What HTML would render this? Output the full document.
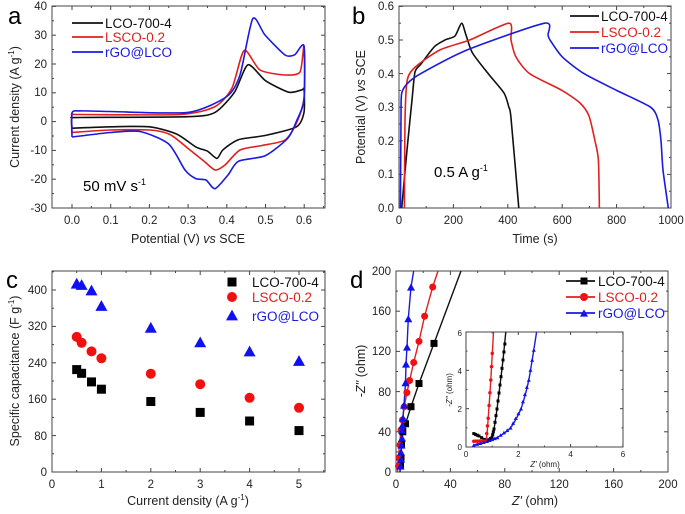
<!DOCTYPE html>
<html><head><meta charset="utf-8"><style>
html,body{margin:0;padding:0;background:#fff;}
svg{display:block;font-family:"Liberation Sans",Arial,sans-serif;}
.t{font-size:11.5px;fill:#222}
.at{font-size:12.5px;fill:#222}
.lg{font-size:13.5px}
.pl{font-size:24px;fill:#000}
</style></head><body>
<svg id="s" width="685" height="514" viewBox="0 0 685 514" xmlns="http://www.w3.org/2000/svg">
<g fill="none" stroke="#444" stroke-width="1">
<rect x="52" y="6" width="273" height="202"/>
<rect x="399" y="6" width="272" height="202"/>
<rect x="52" y="271" width="273" height="201"/>
<rect x="396" y="271" width="272" height="201"/>
<rect x="466" y="332" width="157" height="115"/>
</g>
<g id="ticks" stroke="#444" stroke-width="1"></g>
<g fill="none" stroke-width="1.6" stroke-linejoin="round">
<polyline class="sm" stroke="#111" points="72,128.2 72,118.1 79.7,117.5 188,116.7 215,112.4 234.5,92.2 248,64.8 265.5,80.7 288.7,92.2 302,89.8 304,89.3 304,112.4 296.5,126.8 265.5,135.4 238.4,139.7 223,149.8 217,158.4 207.5,151.2 195.8,146.9 176.5,134 149.4,126.8 110.7,126.8 72,128.2"/>
<polyline class="sm" stroke="#e02020" points="72,132.5 72,115.2 80,114.5 180,114.5 215,106.6 232,88 244.2,50.4 260,70 285,75 300,72 304,46.1 304,98 296.5,123 285,140 262,145.5 240,150 225,165 215.2,170 205,162 190,150 170,134.5 150,130 110,130 72,132.5"/>
<polyline class="sm" stroke="#1a1ae0" points="72,137 72,113 80,110.9 110,111.5 188,112.4 226.8,96.5 240,75 252.7,18.8 265,35 285,55 294.7,54.8 304,46.1 304,100 296.5,121 288,138 265.5,155.6 238.4,161.3 228,175 215,188.7 206,180 195.8,178.6 185,170 168.7,144 140,131.5 110.7,132.5 72,137"/>
</g>
<g fill="none" stroke-width="1.6" stroke-linejoin="round">
<polyline class="sm" stroke="#111" points="401.7,208 407,150 412,100 415,72 421,64 434.4,46.7 445,40 455,36 461.6,23.2 466,35 472.5,53 489,74.6 504,93 508.8,107 511,118 518.8,208"/>
<polyline class="sm" stroke="#e02020" points="404.4,208 405,120 407.2,80.3 415.3,67 439.8,50 469.7,40 509,23.2 511,40 516,57 529.6,73.6 562,90.4 580,103 589,116 595,141 598.4,160 599.4,208"/>
<polyline class="sm" stroke="#1a1ae0" points="400.4,208 401,120 401.6,93.8 407.2,83.7 420.8,73.6 467,50 544.5,23.2 548,35 550,40 562.2,56.8 584,73.6 616.6,90.4 650.6,107.2 658,120 661,140.8 663,170 668.3,208"/>
</g>
<g fill="none" stroke-width="1.4">
<polyline stroke="#111" points="400,472 401,455 402.8,431.8 405.5,423.8 411,406.7 419,383.5 434,343.4 461,271"/>
<polyline stroke="#e02020" points="397.5,472 399,450 401,430 404.2,406.7 406.9,392.6 409.6,380.5 413.7,362.5 419,341.4 424.6,316.2 432.7,287 438,271"/>
<polyline stroke="#1a1ae0" points="400,472 401,450 402,430 403,418 404,405 405.5,382.6 406,364 407,347 408.3,318.6 411,287 413.7,271"/>
<polyline class="sm" stroke="#111" points="473.8,433.6 479,436 487,441 492,437.4 494,429 497,409 500,385 503,360 505.8,332"/>
<polyline class="sm" stroke="#e02020" points="473.8,441.2 480,441 486,441.2 488.2,418.2 490.8,380 493.5,332"/>
<polyline class="sm" stroke="#1a1ae0" points="473.8,445.1 487,441.2 497.4,437.4 510.5,427.8 521,408.7 528.8,379.9 536.6,332"/>
</g>
<g id="mk"></g>
<g stroke-width="1.8">
<line x1="72" y1="23" x2="103" y2="23" stroke="#111"/>
<line x1="72" y1="37" x2="103" y2="37" stroke="#e02020"/>
<line x1="72" y1="52" x2="103" y2="52" stroke="#1a1ae0"/>
<line x1="570" y1="16" x2="599" y2="16" stroke="#111"/>
<line x1="570" y1="32" x2="599" y2="32" stroke="#e02020"/>
<line x1="570" y1="48" x2="599" y2="48" stroke="#1a1ae0"/>
<line x1="566" y1="281" x2="595" y2="281" stroke="#111"/>
<line x1="566" y1="297" x2="595" y2="297" stroke="#e02020"/>
<line x1="566" y1="313" x2="595" y2="313" stroke="#1a1ae0"/>
</g>
<g class="lg">
<text x="105" y="28" fill="#111">LCO-700-4</text>
<text x="105" y="42" fill="#e02020">LSCO-0.2</text>
<text x="105" y="57" fill="#1a1ae0">rGO@LCO</text>
<text x="601" y="21" fill="#111">LCO-700-4</text>
<text x="601" y="37" fill="#e02020">LSCO-0.2</text>
<text x="601" y="53" fill="#1a1ae0">rGO@LCO</text>
<text x="252" y="287" fill="#111">LCO-700-4</text>
<text x="252" y="302" fill="#e02020">LSCO-0.2</text>
<text x="252" y="321" fill="#1a1ae0">rGO@LCO</text>
<text x="598" y="286" fill="#111">LCO-700-4</text>
<text x="598" y="302" fill="#e02020">LSCO-0.2</text>
<text x="598" y="318" fill="#1a1ae0">rGO@LCO</text>
</g>
<text class="pl" x="8" y="24">a</text>
<text class="pl" x="352" y="24">b</text>
<text class="pl" x="6" y="288">c</text>
<text class="pl" x="350" y="288">d</text>
<text x="83" y="191" style="font-size:15px">50 mV s<tspan dy="-6" style="font-size:9px">-1</tspan></text>
<text x="434" y="177" style="font-size:15px">0.5 A g<tspan dy="-6" style="font-size:9px">-1</tspan></text>
<g class="t" text-anchor="end">
<text x="47" y="10">40</text><text x="47" y="39">30</text><text x="47" y="68">20</text><text x="47" y="96">10</text><text x="47" y="125">0</text><text x="47" y="154">-10</text><text x="47" y="183">-20</text><text x="47" y="212">-30</text>
<text x="394" y="10">0.6</text><text x="394" y="44">0.5</text><text x="394" y="78">0.4</text><text x="394" y="111">0.3</text><text x="394" y="145">0.2</text><text x="394" y="178">0.1</text><text x="394" y="212">0.0</text>
<text x="47" y="294">400</text><text x="47" y="330">320</text><text x="47" y="367">240</text><text x="47" y="403">160</text><text x="47" y="440">80</text><text x="47" y="476">0</text>
<text x="391" y="275">200</text><text x="391" y="315">160</text><text x="391" y="355">120</text><text x="391" y="396">80</text><text x="391" y="436">40</text><text x="391" y="476">0</text>
</g>
<g class="t" text-anchor="middle">
<text x="72" y="224">0.0</text><text x="110.7" y="224">0.1</text><text x="149.4" y="224">0.2</text><text x="188" y="224">0.3</text><text x="226.8" y="224">0.4</text><text x="265.5" y="224">0.5</text><text x="304" y="224">0.6</text>
<text x="399" y="224">0</text><text x="453.4" y="224">200</text><text x="507.8" y="224">400</text><text x="562.2" y="224">600</text><text x="616.6" y="224">800</text><text x="671" y="224">1000</text>
<text x="52" y="488">0</text><text x="101.4" y="488">1</text><text x="150.8" y="488">2</text><text x="200.2" y="488">3</text><text x="249.6" y="488">4</text><text x="299" y="488">5</text>
<text x="396" y="488">0</text><text x="450.4" y="488">40</text><text x="504.8" y="488">80</text><text x="559.2" y="488">120</text><text x="613.6" y="488">160</text><text x="668" y="488">200</text>
</g>
<g style="font-size:8px;fill:#222">
<text x="462" y="450" text-anchor="end">0</text><text x="462" y="412" text-anchor="end">2</text><text x="462" y="374" text-anchor="end">4</text><text x="462" y="336" text-anchor="end">6</text>
<text x="466" y="457" text-anchor="middle">0</text><text x="518.3" y="457" text-anchor="middle">2</text><text x="570.6" y="457" text-anchor="middle">4</text><text x="623" y="457" text-anchor="middle">6</text>
<text x="545" y="467" text-anchor="middle"><tspan font-style="italic">Z'</tspan> (ohm)</text>
<text transform="translate(452,390) rotate(-90)" text-anchor="middle"><tspan font-style="italic">-Z''</tspan> (ohm)</text>
</g>
<g class="at" text-anchor="middle">
<text x="188" y="243">Potential (V) <tspan font-style="italic">vs</tspan> SCE</text>
<text x="535" y="243">Time (s)</text>
<text x="188" y="505">Current density (A g<tspan dy="-5" style="font-size:8px">-1</tspan><tspan dy="5">)</tspan></text>
<text x="535" y="505"><tspan font-style="italic">Z'</tspan> (ohm)</text>
<text transform="translate(19,107) rotate(-90)">Current density (A g<tspan dy="-5" style="font-size:8px">-1</tspan><tspan dy="5">)</tspan></text>
<text transform="translate(365,107) rotate(-90)">Potential (V) <tspan font-style="italic">vs</tspan> SCE</text>
<text transform="translate(19,371) rotate(-90)">Specific capacitance (F g<tspan dy="-5" style="font-size:8px">-1</tspan><tspan dy="5">)</tspan></text>
<text transform="translate(365,371) rotate(-90)"><tspan font-style="italic">-Z''</tspan> (ohm)</text>
</g>
</svg>
<script>
(function(){
var NS="http://www.w3.org/2000/svg",T=document.getElementById("ticks"),M=document.getElementById("mk");
Array.prototype.forEach.call(document.querySelectorAll("polyline.sm"),function(pl){
var p=pl.getAttribute("points").trim().split(/\s+/).map(function(s){return s.split(",").map(Number);});
var d="M"+p[0][0]+","+p[0][1];
for(var i=0;i<p.length-1;i++){var p0=p[i-1]||p[i],p1=p[i],p2=p[i+1],p3=p[i+2]||p2;var k=0.12;
d+=" C"+(p1[0]+(p2[0]-p0[0])*k)+","+(p1[1]+(p2[1]-p0[1])*k)+" "+(p2[0]-(p3[0]-p1[0])*k)+","+(p2[1]-(p3[1]-p1[1])*k)+" "+p2[0]+","+p2[1];}
var path=document.createElementNS(NS,"path");path.setAttribute("d",d);path.setAttribute("stroke",pl.getAttribute("stroke"));
pl.parentNode.replaceChild(path,pl);});
function L(x1,y1,x2,y2){var l=document.createElementNS(NS,"line");l.setAttribute("x1",x1);l.setAttribute("y1",y1);l.setAttribute("x2",x2);l.setAttribute("y2",y2);T.appendChild(l);}
function xt(x0,step,n,yb,yt,minor,len){for(var i=0;i<n;i++){var x=x0+i*step;var lg=(i%2==0)||!minor;var h=lg?len:len/2;L(x,yb,x,yb-h);L(x,yt,x,yt+h);}}
function yt(y0,step,n,xl,xr,minor,len){for(var i=0;i<n;i++){var y=y0-i*step;var lg=(i%2==0)||!minor;var h=lg?len:len/2;L(xl,y,xl+h,y);L(xr,y,xr-h,y);}}
xt(72,19.35,14,208,6,true,4);yt(208,14.4,15,52,325,true,4);
xt(399,27.2,11,208,6,true,4);yt(208,16.8,13,399,671,true,4);
xt(52,24.7,12,472,271,true,4);yt(472,18.2,12,52,325,true,4);
xt(396,27.2,11,472,271,true,4);yt(472,20.1,11,396,668,true,4);
xt(466,26.15,7,447,332,true,3);yt(447,19.17,7,466,623,true,3);
function sq(x,y,s,c){var r=document.createElementNS(NS,"rect");r.setAttribute("x",x-s/2);r.setAttribute("y",y-s/2);r.setAttribute("width",s);r.setAttribute("height",s);r.setAttribute("fill",c);M.appendChild(r);}
function ci(x,y,s,c){var r=document.createElementNS(NS,"circle");r.setAttribute("cx",x);r.setAttribute("cy",y);r.setAttribute("r",s/2);r.setAttribute("fill",c);M.appendChild(r);}
function tr(x,y,s,c){var r=document.createElementNS(NS,"polygon");var h=s*0.9;r.setAttribute("points",(x-s/2)+","+(y+h/2)+" "+(x+s/2)+","+(y+h/2)+" "+x+","+(y-h/2));r.setAttribute("fill",c);M.appendChild(r);}
var xs=[76.7,81.6,91.5,101.4,150.8,200.2,249.6,299];
var bk=[369.6,373.3,381.9,389.2,401.5,412.4,421,430.6],rd=[336.9,342.8,351.4,358.3,373.7,384.2,397.8,407.8],bl=[283.2,284.5,290,305.5,327.3,341.9,351,360.5];
for(var i=0;i<8;i++){sq(xs[i],bk[i],9,"#000");ci(xs[i],rd[i],10,"#f01010");tr(xs[i],bl[i],12,"#1010f0");}
sq(232,282,9,"#000");ci(232,297,10,"#f01010");tr(232,315,12,"#1010f0");
sq(584,281,7,"#000");ci(584,297,8,"#f01010");tr(584,313,8,"#1010f0");
[[434,343.4],[419,383.5],[411,406.7],[405.5,423.8],[402.8,431.8],[401.5,445],[401,458],[400.5,466]].forEach(function(p){sq(p[0],p[1],7,"#000");});
[[432.7,287],[424.6,316.2],[419,341.4],[413.7,362.5],[409.6,380.5],[406.9,392.6],[404.2,406.7],[402.5,420],[401,430],[400,445],[399,458],[398.5,466]].forEach(function(p){ci(p[0],p[1],7,"#f01010");});
[[411,287],[408.3,318.6],[407,347],[406,364],[405.5,382.6],[404,405],[403,418],[402.5,425],[402,430],[402,438],[401.5,445],[401,452],[401,459],[400.5,466]].forEach(function(p){tr(p[0],p[1],8,"#1010f0");});
function along(pts,n,fn,s,c){for(var k=0;k<pts.length-1;k++){for(var j=0;j<n;j++){var t=j/n;fn(pts[k][0]+(pts[k+1][0]-pts[k][0])*t,pts[k][1]+(pts[k+1][1]-pts[k][1])*t,s,c);}}}
along([[473.8,433.6],[479,436],[487,441],[492,437.4],[494,429],[497,409],[500,385],[503,360],[505.8,336]],3,sq,3,"#000");
along([[473.8,441.2],[480,441],[486,441.2],[488.2,418.2],[490.8,380],[493,340]],3,ci,3.5,"#f01010");
along([[473.8,445.1],[487,441.2],[497.4,437.4],[510.5,427.8],[521,408.7],[528.8,379.9],[535.5,340]],4,tr,4,"#1010f0");
})();
</script>
</body></html>
